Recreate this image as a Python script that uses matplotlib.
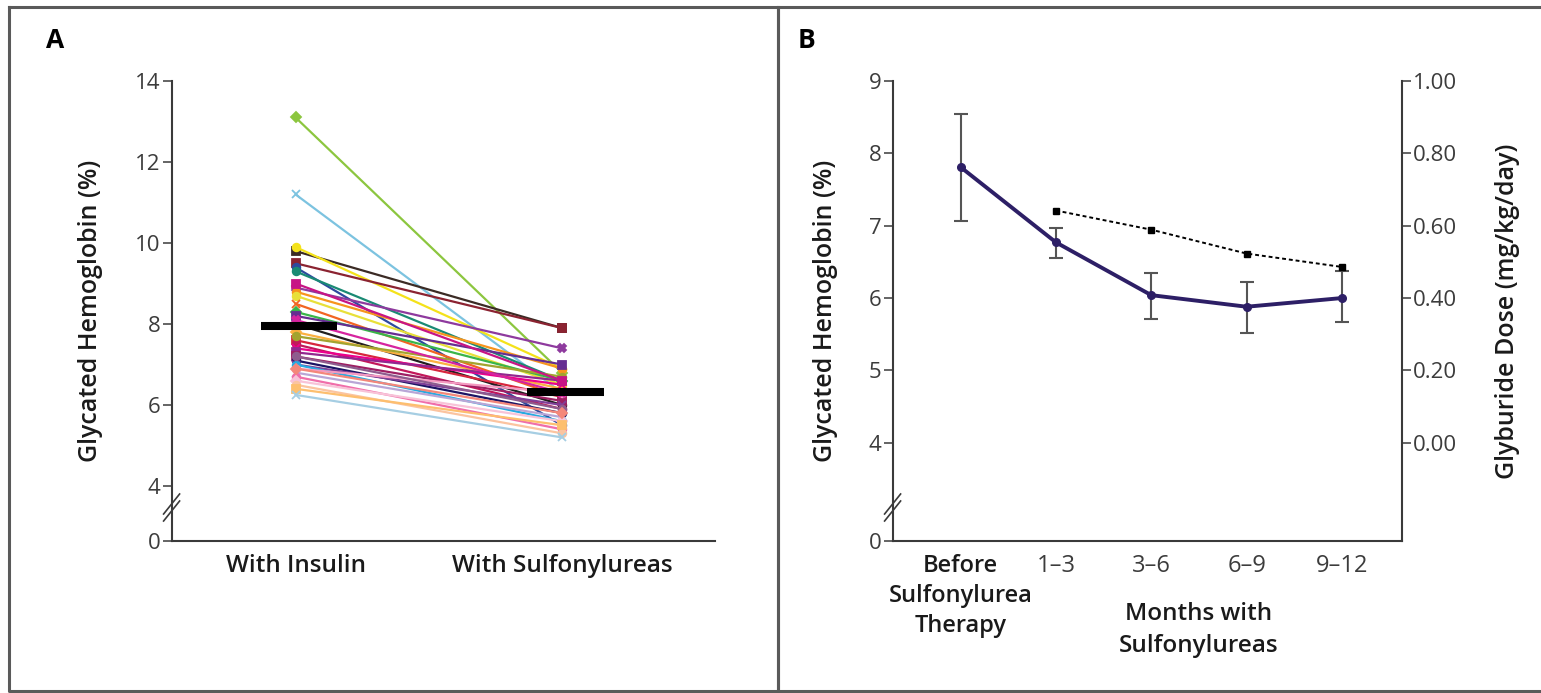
import matplotlib
matplotlib.use("Agg")
import matplotlib.pyplot as plt
from matplotlib.lines import Line2D

W, H = 1541, 693
plt.rcParams['font.family'] = ['Open Sans', 'DejaVu Sans']

# ---------------- Panel A data ----------------
groups = ['With Insulin', 'With Sulfonylureas']
insulin = [13.1, 11.2, 9.8, 9.9, 9.5, 9.4, 9.3, 8.9, 8.8, 8.7, 8.5, 8.3, 8.2, 8.0,
           7.8, 7.6, 7.5, 7.4, 7.3, 7.2, 7.1, 7.0, 7.0, 6.9, 6.8, 6.7, 6.6, 6.5,
           6.4, 6.25, 7.7, 8.1, 7.2, 6.9, 9.0]
sulfonylurea = [6.8, 6.3, 7.9, 6.9, 7.9, 5.5, 6.6, 7.4, 6.9, 6.5, 6.2, 6.6, 7.0, 6.0,
                6.4, 6.2, 5.9, 6.5, 6.6, 6.1, 5.8, 6.0, 5.6, 6.3, 5.7, 5.4, 5.6, 5.3,
                5.5, 5.2, 6.7, 6.3, 5.9, 5.8, 6.6]
patient_colors = ['#8cc63f', '#7cc3e0', '#3b2b25', '#f4e21a', '#8b2331', '#2e4a9e',
                  '#1a8a74', '#8e3a9e', '#f7941d', '#e8e03a', '#f26522', '#39b54a',
                  '#662d91', '#231f20', '#fbb040', '#d7263d', '#c2185b', '#ec008c',
                  '#92278f', '#9e1f63', '#1b1464', '#7f3f98', '#27aae1', '#f49ac1',
                  '#b9a6d6', '#f06eaa', '#f8c3d8', '#fbc4a0', '#fdbf6f', '#a6cee3',
                  '#a3a32f', '#d6249f', '#8e5c8e', '#f4877a', '#c71585']
patient_markers = ['D', 'x', 's', 'o', 's', 'o', 'o', 'X', 'o', 'o', 'x', 'D', 's',
                   'o', 'D', 's', 'o', 'x', 's', 's', 'o', 'x', 'o', 'o', 'x', 'o',
                   'D', 'o', 's', 'x', 'o', 'X', 'o', 'D', 's']
mean_values = [7.95, 6.32]

# ---------------- Panel B data ----------------
periods = ['Before\nSulfonylurea\nTherapy', '1\u20133', '3\u20136', '6\u20139', '9\u201312']
hba1c = [7.81, 6.77, 6.04, 5.88, 6.00]
hba1c_low = [7.06, 6.55, 5.71, 5.51, 5.67]
hba1c_high = [8.54, 6.97, 6.35, 6.22, 6.37]
dose_periods = ['1\u20133', '3\u20136', '6\u20139', '9\u201312']
dose = [0.642, 0.589, 0.523, 0.486]

left_ticks = [4, 5, 6, 7, 8, 9]
a_ticks = [4, 6, 8, 10, 12, 14]
dose_ticks = [0.0, 0.2, 0.4, 0.6, 0.8, 1.0]

# ---------------- layout helpers ----------------
def fx(px):
    return px / W

def fy(py):
    return 1 - py / H

fig = plt.figure(figsize=(W / 100, H / 100), dpi=100)
fig.patch.set_facecolor('white')

AX_TOP, AX_BOT = 81, 541
ZERO_POS = 4 - (AX_BOT - 486) / 40.5   # broken axis: where "0" sits

axA = fig.add_axes([fx(171.6), fy(AX_BOT), fx(715 - 171.6), (AX_BOT - AX_TOP) / H])
axB = fig.add_axes([fx(892.6), fy(AX_BOT), fx(1402 - 892.6), (AX_BOT - AX_TOP) / H])

axis_col = '#3a3a3a'
tick_col = '#3c3c3c'
text_col = '#1a1a1a'
TICK_FS = 16

def style_axis(ax):
    for s in ['top', 'right']:
        ax.spines[s].set_visible(False)
    for s in ['left', 'bottom']:
        ax.spines[s].set_color(axis_col)
        ax.spines[s].set_linewidth(1.5)
    ax.tick_params(axis='y', direction='out', length=6.5, width=1.1, color=axis_col,
                   labelsize=TICK_FS, labelcolor=tick_col, pad=1.5)
    ax.tick_params(axis='x', length=0, pad=9)

# ---------------- Panel A ----------------
style_axis(axA)
xpos = list(range(len(groups)))
for v0, v1, c, m in zip(insulin, sulfonylurea, patient_colors, patient_markers):
    axA.plot(xpos, [v0, v1], color=c, lw=1.6, marker=m, ms=5.5, mew=1.3,
             mfc=c, mec=c, solid_capstyle='round', zorder=2)
for x, mv in zip(xpos, mean_values):
    axA.plot([x - 0.13, x + 0.157], [mv, mv], color='black', lw=5.8,
             solid_capstyle='butt', zorder=5)
axA.set_xlim(-0.465, 1.574)
axA.set_ylim(ZERO_POS, 14)
axA.set_yticks([ZERO_POS] + a_ticks)
axA.set_yticklabels(['0'] + [str(t) for t in a_ticks])
axA.set_xticks(xpos)
axA.set_xticklabels(groups, fontsize=17.5, fontweight='semibold', color=text_col)

# ---------------- Panel B ----------------
style_axis(axB)
bpos = list(range(len(periods)))
yerr = [[h - l for h, l in zip(hba1c, hba1c_low)],
        [u - h for h, u in zip(hba1c, hba1c_high)]]
axB.errorbar(bpos, hba1c, yerr=yerr, fmt='none', ecolor='#555555', elinewidth=1.5,
             capsize=5, capthick=1.5, zorder=2)
axB.plot(bpos, hba1c, color='#2d1f66', lw=2.8, marker='o', ms=5.5, zorder=4)
axB.set_xlim(-0.713, 4.63)
axB.set_ylim(ZERO_POS, 9)
axB.set_yticks([ZERO_POS] + left_ticks)
axB.set_yticklabels(['0'] + [str(t) for t in left_ticks])
axB.set_xticks(bpos)
axB.set_xticklabels(periods, fontsize=17, color=text_col, linespacing=1.35)
for i, lab in enumerate(axB.get_xticklabels()):
    if i == 0:
        lab.set_fontweight('semibold')
    else:
        lab.set_color(tick_col)

axR = axB.twinx()
axR.set_position(axB.get_position())
for s in ['top', 'left', 'bottom']:
    axR.spines[s].set_visible(False)
axR.spines['right'].set_color(axis_col)
axR.spines['right'].set_linewidth(1.5)
axR.set_ylim((ZERO_POS - 4) / 5, 1.0)
axR.set_yticks(dose_ticks)
axR.set_yticklabels([f'{t:.2f}' for t in dose_ticks])
axR.tick_params(axis='y', direction='out', length=6.5, width=1.1, color=axis_col,
                labelsize=TICK_FS, labelcolor=tick_col, pad=1.5)
dose_x = [periods.index(p) for p in dose_periods]
axR.plot(dose_x, dose, color='black', lw=1.4, ls=(0, (2, 1.5)), marker='s', ms=4.5,
         zorder=3)
axR.set_xlim(axB.get_xlim())

# ---------------- text ----------------
LABEL_FS = 18
fig.text(fx(91), fy(311), 'Glycated Hemoglobin (%)', rotation=90, ha='center',
         va='center', fontsize=LABEL_FS, fontweight='semibold', color=text_col)
fig.text(fx(826), fy(311), 'Glycated Hemoglobin (%)', rotation=90, ha='center',
         va='center', fontsize=LABEL_FS, fontweight='semibold', color=text_col)
fig.text(fx(1508), fy(311), 'Glyburide Dose (mg/kg/day)', rotation=90, ha='center',
         va='center', fontsize=LABEL_FS, fontweight='semibold', color=text_col)
fig.text(fx(1199), fy(630), 'Months with\nSulfonylureas', ha='center', va='center',
         fontsize=17.5, fontweight='semibold', color=text_col, linespacing=1.4)
fig.text(fx(55), fy(40), 'A', ha='center', va='center', fontsize=19,
         fontweight='bold', color='black')
fig.text(fx(806), fy(40), 'B', ha='center', va='center', fontsize=19,
         fontweight='bold', color='black')

# ---------------- axis break marks ----------------
for ax_x in [171.6, 892.6]:
    for dy in [0, -7]:
        fig.add_artist(Line2D([fx(ax_x - 8), fx(ax_x + 8)],
                              [fy(521 + dy), fy(501 + dy)],
                              transform=fig.transFigure, color=axis_col, lw=1.2))

# ---------------- panel frames ----------------
frame_col = '#5a5a5a'
for x0, x1 in [(9, 778), (778, 1545)]:
    fig.add_artist(Line2D([fx(x0), fx(x1), fx(x1), fx(x0), fx(x0)],
                          [fy(7), fy(7), fy(691), fy(691), fy(7)],
                          transform=fig.transFigure, color=frame_col, lw=2.2))

fig.savefig('out.png', dpi=100, facecolor='white')
